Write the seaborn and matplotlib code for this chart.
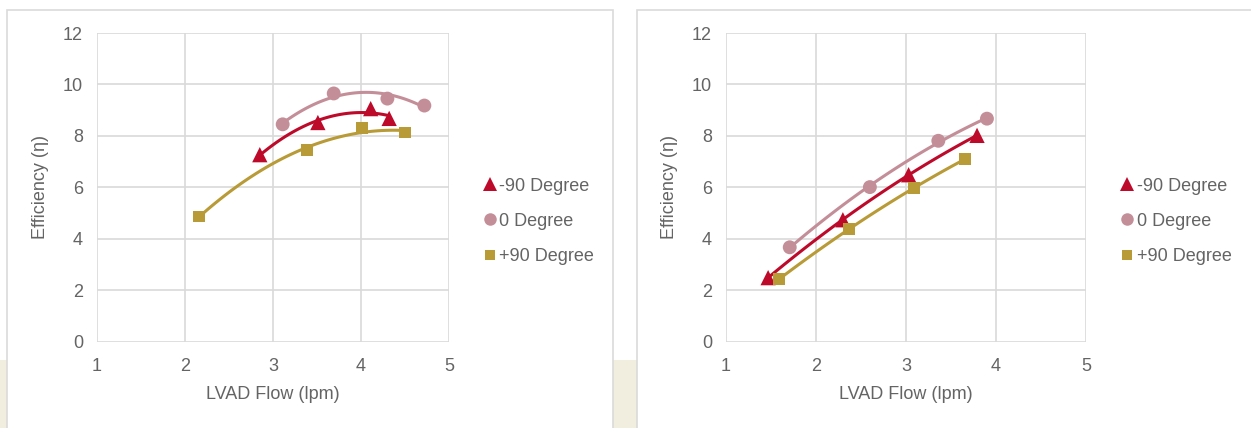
import numpy as np
import pandas as pd
import matplotlib
matplotlib.use("Agg")
import matplotlib.pyplot as plt
from matplotlib.lines import Line2D
from matplotlib.patches import Rectangle
import seaborn as sns

# ---- data ----------------------------------------------------------------
series_names = ["-90 Degree", "0 Degree", "+90 Degree"]

# left panel
left_flow_m90 = [2.85, 3.51, 4.11, 4.32]
left_eff_m90 = [7.27, 8.52, 9.06, 8.68]
left_flow_0 = [3.11, 3.69, 4.30, 4.72]
left_eff_0 = [8.45, 9.65, 9.45, 9.18]
left_flow_p90 = [2.16, 3.39, 4.01, 4.50]
left_eff_p90 = [4.87, 7.44, 8.31, 8.13]

# right panel
right_flow_m90 = [1.47, 2.30, 3.03, 3.79]
right_eff_m90 = [2.49, 4.74, 6.49, 8.02]
right_flow_0 = [1.71, 2.60, 3.36, 3.90]
right_eff_0 = [3.67, 6.01, 7.81, 8.67]
right_flow_p90 = [1.59, 2.37, 3.09, 3.66]
right_eff_p90 = [2.43, 4.37, 5.99, 7.10]

x_ticks = [1, 2, 3, 4, 5]
y_ticks = [0, 2, 4, 6, 8, 10, 12]

# ---- style ---------------------------------------------------------------
sns.set_theme(style="white")
plt.rcParams["font.family"] = ["Liberation Sans", "DejaVu Sans"]

TEXT = "#646464"
GRID = "#D9D9D9"
colors = {"-90 Degree": "#BE0A2A", "0 Degree": "#C48E98", "+90 Degree": "#B89A36"}
markers = {"-90 Degree": "^", "0 Degree": "o", "+90 Degree": "s"}
msizes = {"-90 Degree": 11, "0 Degree": 10, "+90 Degree": 8.5}


def frame(flows, effs):
    rows = []
    for name, xs, ys in zip(series_names, flows, effs):
        for x, y in zip(xs, ys):
            rows.append({"flow": x, "eff": y, "series": name})
    return pd.DataFrame(rows)


left_df = frame([left_flow_m90, left_flow_0, left_flow_p90],
                [left_eff_m90, left_eff_0, left_eff_p90])
right_df = frame([right_flow_m90, right_flow_0, right_flow_p90],
                 [right_eff_m90, right_eff_0, right_eff_p90])

fig = plt.figure(figsize=(12.51, 4.28), dpi=100)
fig.patch.set_facecolor("white")

# cream background showing around the two chart cards
cream = "#F2EEDF"
fig.add_artist(Rectangle((0, 0), 7 / 1251, 68 / 428, transform=fig.transFigure,
                         facecolor=cream, edgecolor="none", zorder=0))
fig.add_artist(Rectangle((613 / 1251, 0), 24 / 1251, 68 / 428, transform=fig.transFigure,
                         facecolor=cream, edgecolor="none", zorder=0))
# card outlines
fig.add_artist(Rectangle((7 / 1251, -0.05), 606 / 1251, 1.05 - 10 / 428,
                         transform=fig.transFigure, facecolor="none",
                         edgecolor="#DADADA", linewidth=1.2, zorder=1))
fig.add_artist(Rectangle((637 / 1251, -0.05), 0.6, 1.05 - 10 / 428,
                         transform=fig.transFigure, facecolor="none",
                         edgecolor="#DADADA", linewidth=1.2, zorder=1))

ax_left = fig.add_axes([97 / 1251, 86.3 / 428, 352 / 1251, 308.7 / 428])
ax_right = fig.add_axes([725.8 / 1251, 86.3 / 428, 360.2 / 1251, 308.7 / 428])


def draw(ax, df):
    ax.set_facecolor("none")
    for name in series_names:
        sub = df[df["series"] == name]
        sns.regplot(data=sub, x="flow", y="eff", order=2, ci=None, scatter=False,
                    truncate=True, ax=ax,
                    line_kws={"color": colors[name], "linewidth": 2.2,
                              "solid_capstyle": "round", "zorder": 3})
    for name in series_names:
        sub = df[df["series"] == name]
        sns.scatterplot(data=sub, x="flow", y="eff", ax=ax, marker=markers[name],
                        s=msizes[name] ** 2, color=colors[name], edgecolor="none",
                        linewidth=0, zorder=4, legend=False)
    ax.set_xlim(1, 5)
    ax.set_ylim(0, 12)
    ax.set_xticks(x_ticks)
    ax.set_yticks(y_ticks)
    ax.set_xticklabels([str(t) for t in x_ticks])
    ax.set_yticklabels([str(t) for t in y_ticks])
    ax.grid(True, color=GRID, linewidth=1.2)
    ax.set_axisbelow(True)
    for sp in ax.spines.values():
        sp.set_visible(False)
    ax.tick_params(axis="both", length=0, labelsize=13, labelcolor=TEXT)
    ax.tick_params(axis="x", pad=12)
    ax.tick_params(axis="y", pad=10)
    ax.set_xlabel("LVAD Flow (lpm)", fontsize=13, color=TEXT, labelpad=8)
    ax.set_ylabel("Efficiency (η)", fontsize=13, color=TEXT, labelpad=10)

    handles = [Line2D([], [], linestyle="none", marker=markers[n], color=colors[n],
                      markersize=msizes[n] * 0.9, markeredgewidth=0)
               for n in series_names]
    leg = ax.legend(handles, series_names, loc="center left",
                    bbox_to_anchor=(1.05, 0.39), frameon=False, fontsize=13,
                    handlelength=0.8, handletextpad=0.1, labelspacing=1.0)
    for t in leg.get_texts():
        t.set_color(TEXT)


draw(ax_left, left_df)
draw(ax_right, right_df)

fig.savefig("out.png", dpi=100)
